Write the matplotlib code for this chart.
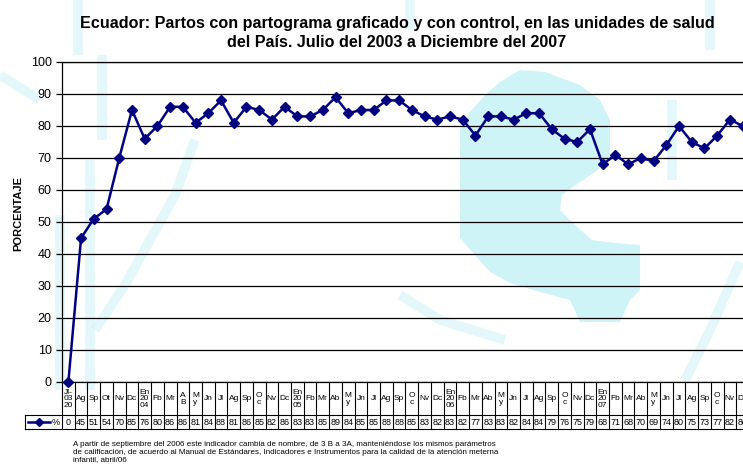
import matplotlib
matplotlib.use("Agg")
import matplotlib.pyplot as plt
from matplotlib.patches import Polygon
from matplotlib.lines import Line2D
from matplotlib.transforms import blended_transform_factory
import numpy as np

plt.rcParams['font.family'] = ['Liberation Sans', 'DejaVu Sans']

# meses (Julio 2003 - Diciembre 2007) tal como aparecen en la tabla
meses = ["Jl-\n03\n20", "Ag", "Sp", "Ot", "Nv", "Dc",
         "En\n20\n04", "Fb", "Mr", "A\nB", "M\ny", "Jn", "Jl", "Ag", "Sp",
         "O\nc", "Nv", "Dc",
         "En\n20\n05", "Fb", "Mr", "Ab", "M\ny", "Jn", "Jl", "Ag", "Sp",
         "O\nc", "Nv", "Dc",
         "En\n20\n06", "Fb", "Mr", "Ab", "M\ny", "Jn", "Jl", "Ag", "Sp",
         "O\nc", "Nv", "Dc",
         "En\n20\n07", "Fb", "Mr", "Ab", "M\ny", "Jn", "Jl", "Ag", "Sp",
         "O\nc", "Nv", "Dc"]

porcentaje = [0, 45, 51, 54, 70, 85,
              76, 80, 86, 86, 81, 84, 88, 81, 86, 85, 82, 86,
              83, 83, 85, 89, 84, 85, 85, 88, 88, 85, 83, 82,
              83, 82, 77, 83, 83, 82, 84, 84, 79, 76, 75, 79,
              68, 71, 68, 70, 69, 74, 80, 75, 73, 77, 82, 80]

titulo = ("Ecuador: Partos con partograma graficado y con control, en las "
          "unidades de salud\ndel País. Julio del 2003 a Diciembre del 2007")
nota = ("A partir de septiembre del 2006 este indicador cambia de nombre, "
        "de 3 B a 3A, manteniéndose los mismos parámetros\n"
        "de calificación, de acuerdo al Manual de Estándares, Indicadores e "
        "Instrumentos para la calidad de la atención meterna\n"
        "infantil, abril/06")

W, H = 743, 468
azul = '#000080'
cian = '#cff4f8'


def px(x, y):
    return x / W, 1 - y / H


fig = plt.figure(figsize=(W / 100, H / 100), dpi=100)

# marca de agua de fondo (logo celeste)
mancha = [(460, 130), (470, 112), (485, 95), (500, 82), (520, 70),
          (545, 72), (580, 85), (600, 100), (610, 120), (610, 160),
          (595, 172), (580, 182), (562, 195), (560, 210), (575, 225),
          (592, 240), (615, 243), (640, 245), (640, 290), (630, 300),
          (620, 322), (580, 322), (570, 300), (540, 292), (510, 283),
          (490, 272), (475, 255), (460, 238)]
fig.add_artist(Polygon([px(x, y) for x, y in mancha], closed=True,
                       transform=fig.transFigure, facecolor=cian,
                       edgecolor='none', zorder=-1))
bandas = [[(60, 390), (60, 215)],
          [(90, 390), (90, 160)],
          [(102, 140), (102, 55)],
          [(95, 330), (125, 285), (150, 240), (175, 195), (195, 140)],
          [(400, 295), (440, 320), (505, 340)],
          [(685, 380), (710, 330), (740, 262)],
          [(672, 100), (672, 180)],
          [(0, 75), (40, 100)],
          [(78, 0), (78, 55)],
          [(410, 0), (410, 30)],
          [(710, 0), (710, 50)]]
for banda in bandas:
    xs, ys = zip(*[px(x, y) for x, y in banda])
    fig.add_artist(Line2D(xs, ys, transform=fig.transFigure, color=cian,
                          lw=7, alpha=0.55, solid_capstyle='butt', zorder=-1))

ax = fig.add_axes([62 / W, 1 - 382 / H, (749 - 62) / W, 320 / H])
ax.set_facecolor('none')
x = np.arange(len(porcentaje))
ax.plot(x, porcentaje, color=azul, lw=1.8, marker='D', ms=5,
        clip_on=False, zorder=3)
ax.set_xlim(-0.5, len(porcentaje) - 0.5)
ax.set_ylim(0, 100)
ax.set_yticks(range(0, 101, 10))
ax.yaxis.grid(True, color='black', lw=0.9)
ax.set_axisbelow(True)
ax.tick_params(axis='y', labelsize=9, length=4, width=0.9)
ax.set_xticks([])
ax.spines['right'].set_visible(False)
for s in ['left', 'bottom', 'top']:
    ax.spines[s].set_linewidth(0.9)

# tabla de datos bajo el eje
tr = blended_transform_factory(ax.transData, fig.transFigure)
y_top, y_mid, y_bot = 1 - 382 / H, 1 - 415 / H, 1 - 429 / H
for i in range(len(meses) + 1):
    ax.add_line(Line2D([i - 0.5, i - 0.5], [y_top, y_bot], transform=tr,
                       color='black', lw=0.8, clip_on=False))
for yy in [y_mid, y_bot]:
    ax.add_line(Line2D([-0.5, len(meses) - 0.5], [yy, yy], transform=tr,
                       color='black', lw=0.8, clip_on=False))
for i, (m, v) in enumerate(zip(meses, porcentaje)):
    ax.text(i, 1 - 399 / H, m, transform=tr, ha='center', va='center',
            fontsize=6, linespacing=0.95)
    ax.text(i, 1 - 422.5 / H, str(v), transform=tr, ha='center',
            va='center', fontsize=6.5)

# celda de leyenda
for yy in [415, 429]:
    fig.add_artist(Line2D([25 / W, 62 / W], [1 - yy / H, 1 - yy / H],
                          transform=fig.transFigure, color='black', lw=0.8))
fig.add_artist(Line2D([25 / W, 25 / W], [1 - 415 / H, 1 - 429 / H],
                      transform=fig.transFigure, color='black', lw=0.8))
fig.add_artist(Line2D([28 / W, 50 / W], [1 - 422 / H, 1 - 422 / H],
                      transform=fig.transFigure, color=azul, lw=1.8))
fig.add_artist(Line2D([39 / W], [1 - 422 / H], transform=fig.transFigure,
                      color=azul, marker='D', ms=4.5, lw=0))
fig.text(52 / W, 1 - 422.5 / H, '%', fontsize=6.5, va='center')

fig.text(397 / W, 1 - 33 / H, titulo, ha='center', va='center',
         fontsize=11.6, fontweight='bold', linespacing=1.4)
fig.text(18 / W, 1 - 214 / H, 'PORCENTAJE', rotation=90, ha='center',
         va='center', fontsize=8, fontweight='bold')
fig.text(73 / W, 1 - 441 / H, nota, ha='left', va='top', fontsize=5.8,
         linespacing=1.15)

fig.savefig('out.png', dpi=100)
